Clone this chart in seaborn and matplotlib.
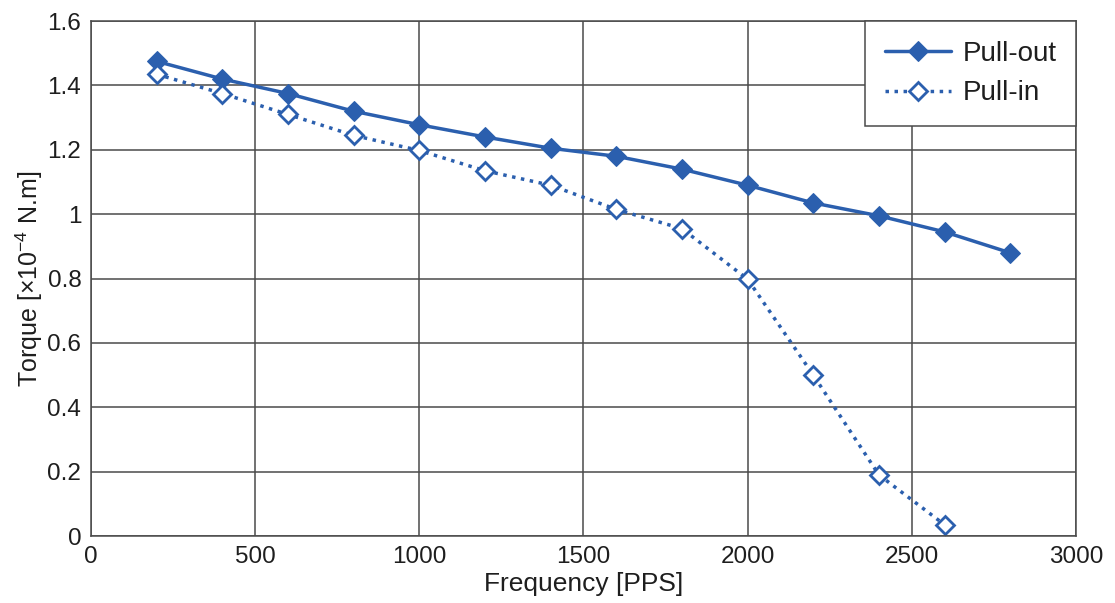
import matplotlib
matplotlib.use('Agg')
import matplotlib.pyplot as plt
import pandas as pd
import seaborn as sns

freq_out = [200, 400, 600, 800, 1000, 1200, 1400, 1600, 1800, 2000, 2200, 2400, 2600, 2800]
torque_out = [1.475, 1.42, 1.375, 1.32, 1.278, 1.24, 1.205, 1.18, 1.14, 1.09, 1.035, 0.995, 0.945, 0.88]

freq_in = [200, 400, 600, 800, 1000, 1200, 1400, 1600, 1800, 2000, 2200, 2400, 2600]
torque_in = [1.435, 1.375, 1.31, 1.245, 1.198, 1.135, 1.09, 1.015, 0.955, 0.798, 0.5, 0.19, 0.035]

x_ticks = [0, 500, 1000, 1500, 2000, 2500, 3000]
y_ticks = [0, 0.2, 0.4, 0.6, 0.8, 1, 1.2, 1.4, 1.6]
y_tick_labels = ['0', '0.2', '0.4', '0.6', '0.8', '1', '1.2', '1.4', '1.6']

blue = '#2b5fae'
grid_col = '#4a4a4a'
text_col = '#1e1e1e'

sns.set_style('whitegrid', {'grid.color': grid_col, 'axes.edgecolor': grid_col})
plt.rcParams['font.family'] = ['Liberation Sans', 'DejaVu Sans']
plt.rcParams['mathtext.fontset'] = 'custom'
plt.rcParams['mathtext.rm'] = 'Liberation Sans'
plt.rcParams['mathtext.default'] = 'regular'

df_out = pd.DataFrame({'freq': freq_out, 'torque': torque_out})
df_in = pd.DataFrame({'freq': freq_in, 'torque': torque_in})

fig = plt.figure(figsize=(11.15, 6.03), dpi=100)
ax = fig.add_axes([0.0816, 0.111, 0.8834, 0.854])

sns.lineplot(data=df_out, x='freq', y='torque', ax=ax, color=blue, linewidth=2.5,
             marker='D', markersize=10, markerfacecolor=blue, markeredgecolor=blue,
             label='Pull-out')
sns.lineplot(data=df_in, x='freq', y='torque', ax=ax, color=blue, linewidth=2.5,
             linestyle=(0, (1, 1.6)), marker='D', markersize=9, markerfacecolor='white',
             markeredgecolor=blue, markeredgewidth=2, label='Pull-in')

ax.set_xlim(0, 3000)
ax.set_ylim(0, 1.6)
ax.set_xticks(x_ticks)
ax.set_yticks(y_ticks)
ax.set_yticklabels(y_tick_labels)
ax.tick_params(labelsize=17.5, length=0, pad=7, colors=text_col)
ax.grid(True, color=grid_col, linewidth=1.1)
for s in ax.spines.values():
    s.set_color(grid_col)
    s.set_linewidth(1.1)

ax.set_xlabel('Frequency [PPS]', fontsize=19, color=text_col, labelpad=3)
ax.set_ylabel('Torque [×10$^{−4}$ N.m]', fontsize=18, color=text_col, labelpad=2)

leg = ax.legend(loc='upper right', borderaxespad=0, fancybox=False, frameon=True,
                fontsize=20, edgecolor=grid_col, framealpha=1, handlelength=2.4,
                borderpad=0.7, labelspacing=0.5, handletextpad=0.4)
leg.get_frame().set_linewidth(1.1)
for t in leg.get_texts():
    t.set_color(text_col)

fig.savefig('out.png', dpi=100)
